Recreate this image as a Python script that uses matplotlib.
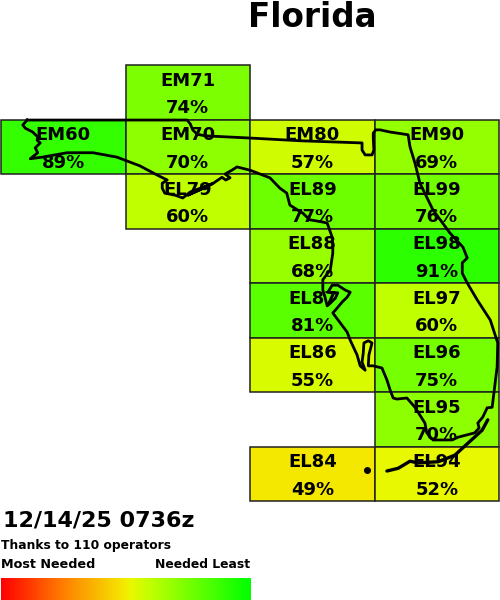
import numpy as np
import matplotlib
matplotlib.use('Agg')
from matplotlib import pyplot as plt
from matplotlib.colors import LinearSegmentedColormap

squares = ['EM71','EM60','EM70','EM80','EM90','EL79','EL89','EL99','EL88','EL98',
           'EL87','EL97','EL86','EL96','EL95','EL84','EL94']
percents = [74,89,70,57,69,60,77,76,68,91,81,60,55,75,70,49,52]

# state outline, lon/lat
coast_lon = [-87.58,-85.01,-84.96,-84.92,-84.85,-84.72,-84.00,-83.20,-82.20,-82.20,-82.15,-82.04,-82.01,-82.02,
             -82.02,-81.98,-81.91,-81.75,-81.46,-81.43,-81.35,-81.27,-81.06,-80.79,-80.58,-80.51,-80.59,-80.59,
             -80.51,-80.35,-80.14,-80.02,-80.03,-80.11,-80.19,-80.26,-80.34,-80.32,-80.39,-80.66,-80.75,-81.06,
             -81.16,-81.19,-81.35,-81.48,-81.64,-81.70,-81.75,-81.80,-81.88,-82.02,-82.10,-82.09,-82.04,-82.10,
             -82.17,-82.18,-82.20,-82.15,-82.23,-82.28,-82.39,-82.44,-82.67,-82.63,-82.52,-82.44,-82.39,-82.47,
             -82.59,-82.68,-82.75,-82.67,-82.59,-82.63,-82.71,-82.76,-82.80,-82.83,-82.83,-82.71,-82.67,-82.67,
             -82.68,-82.76,-82.84,-83.04,-83.15,-83.36,-83.41,-83.52,-83.68,-84.00,-84.21,-84.29,-84.40,-84.32,
             -84.39,-84.45,-84.59,-84.80,-85.00,-84.72,-84.61,-84.96,-85.08,-85.20,-85.37,-85.41,-85.41,-85.33,
             -85.49,-85.77,-86.14,-86.52,-86.94,-87.33,-87.53,-87.41,-87.45,-87.37,-87.42,-87.41,-87.49,-87.61,
             -87.65,-87.58]
coast_lat = [30.99,30.99,30.92,30.81,30.73,30.70,30.66,30.61,30.57,30.44,30.35,30.35,30.44,30.66,
             30.75,30.81,30.81,30.77,30.72,30.50,30.20,29.83,29.34,28.92,28.66,28.46,28.37,28.18,
             28.00,27.69,27.32,26.90,26.46,25.72,25.71,25.54,25.43,25.34,25.25,25.17,25.12,25.12,
             25.25,25.43,25.72,25.89,25.87,25.89,26.04,26.22,26.44,26.48,26.48,26.68,26.90,26.94,
             26.90,26.72,26.55,26.40,26.48,26.68,26.95,27.10,27.45,27.50,27.65,27.74,27.83,27.87,
             27.96,27.96,27.83,27.82,27.82,27.72,27.63,27.58,27.76,27.87,28.06,28.24,28.55,28.73,
             28.84,29.10,29.12,29.16,29.28,29.43,29.65,29.74,29.93,30.07,30.13,30.07,30.00,29.93,
             29.89,29.94,29.83,29.71,29.61,29.76,29.82,29.67,29.56,29.61,29.65,29.74,29.83,29.89,
             29.98,30.15,30.31,30.39,30.39,30.31,30.28,30.39,30.48,30.57,30.62,30.68,30.77,30.84,
             30.90,30.99]
keys_lon = [-80.18,-80.27,-80.50,-80.71,-80.98,-81.30,-81.43,-81.62,-81.80]
keys_lat = [25.49,25.30,25.06,24.84,24.72,24.70,24.73,24.60,24.55]
tortugas_lon = [-82.12]
tortugas_lat = [24.57]

cmap = LinearSegmentedColormap.from_list('needed', [(0,'#ff0000'),(0.25,'#ff8000'),(0.49,'#f5e800'),
                                                    (0.52,'#e8f800'),(0.6,'#bfff00'),(1,'#00ff00')])

W, H = 500, 600
fig = plt.figure(figsize=(W/100, H/100), dpi=100)
ax = fig.add_axes([1/W, (H-501)/H, 498/W, 436/H])
ax.set_xlim(-88, -80)
ax.set_ylim(24, 32)
ax.axis('off')

# grid squares, position comes from the locator itself
for name, pct in zip(squares, percents):
    lon = -180 + (ord(name[0])-65)*20 + int(name[2])*2
    lat = -90 + (ord(name[1])-65)*10 + int(name[3])
    ax.add_patch(plt.Rectangle((lon, lat), 2, 1, fc=cmap(pct/100), ec='#202020', lw=1.1, zorder=1, clip_on=False))
    ax.text(lon+1, lat+0.71, name, ha='center', va='center', fontsize=13, fontweight='bold', color='black', zorder=2)
    ax.text(lon+1, lat+0.21, str(pct)+'%', ha='center', va='center', fontsize=13, fontweight='bold', color='black', zorder=2)

ax.plot(coast_lon, coast_lat, color='black', lw=2.0, solid_joinstyle='round', zorder=3, clip_on=False)
ax.plot(keys_lon, keys_lat, color='black', lw=2.4, solid_capstyle='round', zorder=3, clip_on=False)
ax.plot(tortugas_lon, tortugas_lat, 'o', color='black', ms=4, zorder=3, clip_on=False)

fig.text(312/W, 1-27/H, 'Florida', ha='center', va='baseline', fontsize=23.5, fontweight='bold')
fig.text(3/W, 1-520/H, '12/14/25 0736z', ha='left', va='center', fontsize=16, fontweight='bold')
fig.text(1/W, 1-545/H, 'Thanks to 110 operators', ha='left', va='center', fontsize=8.8, fontweight='bold')
fig.text(1/W, 1-565/H, 'Most Needed', ha='left', va='center', fontsize=9.2, fontweight='bold')
fig.text(250/W, 1-565/H, 'Needed Least', ha='right', va='center', fontsize=8.9, fontweight='bold')

# legend gradient
cax = fig.add_axes([1/W, 0, 250/W, 22/H])
cax.imshow(np.linspace(0, 1, 250).reshape(1, -1), cmap=cmap, aspect='auto', vmin=0, vmax=1)
cax.axis('off')

fig.savefig('out.png', dpi=100)
